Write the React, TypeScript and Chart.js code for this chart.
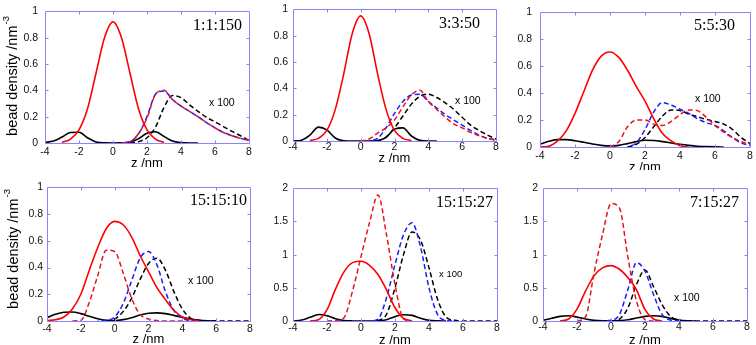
import React, { useEffect, useRef } from "react";
import { Chart, registerables } from "chart.js";

Chart.register(...registerables);

// ---------------- data ----------------
const Z = [-4, -3.5, -3, -2.5, -2, -1.5, -1, -0.5, 0, 0.5, 1, 1.5, 2, 2.5, 3, 3.5, 4, 4.5, 5, 5.5, 6, 6.5, 7, 7.5, 8];
const n = null;

const X_TICKS = [-4, -2, 0, 2, 4, 6, 8];
const Y_TICKS_A = [0, 0.2, 0.4, 0.6, 0.8, 1];
const Y_TICKS_B = [0, 0.5, 1, 1.5, 2];

const PANEL_LABELS = ["1:1:150", "3:3:50", "5:5:30", "15:15:10", "15:15:27", "7:15:27"];
const SCALE_NOTE = "x 100";
const X_TITLE = "z /nm";
const Y_TITLE = "bead density /nm";
const Y_TITLE_SUP = "-3";

// panel 1 (1:1:150)
const p1RedSolid = [n, n, 0.005, 0.03, 0.1, 0.26, 0.53, 0.8, 0.92, 0.8, 0.53, 0.26, 0.1, 0.03, 0.005, n, n, n, n, n, n, n, n, n, n];
const p1BlackSolid = [0.003, 0.015, 0.045, 0.08, 0.082, 0.04, 0.008, 0.001, 0, 0.001, 0.007, 0.032, 0.074, 0.085, 0.05, 0.015, 0.003, 0, 0, n, n, n, n, n, n];
const p1RedDash = [n, n, n, n, n, n, n, n, n, 0, 0.01, 0.07, 0.19, 0.37, 0.4, 0.33, 0.28, 0.24, 0.2, 0.155, 0.115, 0.08, 0.055, 0.035, 0.02];
const p1BlueDash = [n, n, n, n, n, n, n, n, n, 0, 0.01, 0.07, 0.2, 0.37, 0.395, 0.33, 0.28, 0.24, 0.2, 0.155, 0.115, 0.08, 0.055, 0.035, 0.02];
const p1BlackDash = [n, n, n, n, n, n, n, n, n, n, 0, 0.01, 0.04, 0.12, 0.27, 0.36, 0.345, 0.29, 0.24, 0.195, 0.16, 0.125, 0.088, 0.055, 0.02];

// panel 2 (3:3:50)
const p2RedSolid = [n, n, 0.004, 0.02, 0.08, 0.24, 0.51, 0.815, 0.95, 0.815, 0.51, 0.24, 0.08, 0.02, 0.004, n, n, n, n, n, n, n, n, n, n];
const p2BlackSolid = [0, 0.006, 0.044, 0.105, 0.084, 0.023, 0.002, 0, 0, 0, 0.003, 0.027, 0.09, 0.1, 0.038, 0.005, 0, 0, n, n, n, n, n, n, n];
const p2RedDash = [n, n, n, n, n, n, n, n, 0, 0.015, 0.06, 0.1, 0.16, 0.26, 0.35, 0.385, 0.3, 0.24, 0.18, 0.13, 0.1, 0.065, 0.04, 0.02, 0.005];
const p2BlueDash = [n, n, n, n, n, n, n, n, n, 0, 0.02, 0.1, 0.21, 0.3, 0.35, 0.355, 0.3, 0.25, 0.2, 0.16, 0.12, 0.08, 0.045, 0.02, 0.01];
const p2BlackDash = [n, n, n, n, n, n, n, n, n, n, 0, 0.03, 0.1, 0.19, 0.28, 0.34, 0.355, 0.33, 0.29, 0.24, 0.18, 0.12, 0.08, 0.045, 0.015];

// panel 3 (5:5:30)
const p3RedSolid = [0, 0.005, 0.045, 0.12, 0.25, 0.41, 0.57, 0.675, 0.705, 0.665, 0.57, 0.45, 0.34, 0.21, 0.1, 0.045, 0.01, 0, n, n, n, n, n, n, n];
const p3BlackSolid = [0.02, 0.042, 0.055, 0.055, 0.047, 0.035, 0.022, 0.012, 0.008, 0.012, 0.025, 0.04, 0.05, 0.048, 0.04, 0.03, 0.02, 0.012, 0.006, 0.003, 0.001, 0, n, n, n];
const p3RedDash = [n, n, n, n, n, n, n, n, 0, 0.04, 0.15, 0.2, 0.2, 0.17, 0.16, 0.19, 0.24, 0.275, 0.27, 0.22, 0.16, 0.11, 0.07, 0.04, 0.02];
const p3BlueDash = [n, n, n, n, n, n, n, n, n, n, 0, 0.03, 0.13, 0.26, 0.33, 0.31, 0.28, 0.25, 0.21, 0.18, 0.16, 0.12, 0.07, 0.03, 0.01];
const p3BlackDash = [n, n, n, n, n, n, n, n, n, n, 0, 0.02, 0.07, 0.15, 0.23, 0.275, 0.27, 0.245, 0.225, 0.205, 0.19, 0.17, 0.13, 0.07, 0.025];

// panel 4 (15:15:10)
const p4RedSolid = [0.003, 0.01, 0.03, 0.09, 0.2, 0.38, 0.55, 0.69, 0.745, 0.72, 0.63, 0.49, 0.37, 0.25, 0.16, 0.08, 0.03, 0.01, 0.002, n, n, n, n, n, n];
const p4BlackSolid = [0.025, 0.05, 0.065, 0.067, 0.055, 0.035, 0.017, 0.006, 0.003, 0.01, 0.025, 0.045, 0.058, 0.061, 0.055, 0.042, 0.027, 0.014, 0.005, 0.001, 0, n, n, n, n];
const p4RedDash = [n, n, n, 0, 0.005, 0.14, 0.34, 0.53, 0.52, 0.36, 0.17, 0.05, 0.015, 0.003, 0, 0, 0, n, n, n, n, n, n, n, n];
const p4BlueDash = [n, n, n, n, n, n, 0, 0.005, 0.03, 0.13, 0.3, 0.47, 0.52, 0.42, 0.22, 0.08, 0.02, 0.003, 0, n, n, n, n, n, n];
const p4BlackDash = [n, n, n, n, n, n, n, 0, 0.015, 0.07, 0.17, 0.31, 0.43, 0.47, 0.38, 0.22, 0.09, 0.02, 0.005, 0, 0, 0, 0, 0, 0];

// panel 5 (15:15:27)
const p5RedSolid = [n, n, 0, 0.02, 0.17, 0.48, 0.74, 0.88, 0.9, 0.84, 0.7, 0.47, 0.2, 0.04, 0.005, n, n, n, n, n, n, n, n, n, n];
const p5BlackSolid = [0, 0.015, 0.055, 0.098, 0.08, 0.035, 0.008, 0.001, 0, 0, 0.003, 0.02, 0.065, 0.095, 0.085, 0.04, 0.01, 0.002, 0, n, n, n, n, n, n];
const p5RedDash = [n, n, n, n, 0, 0.005, 0.05, 0.45, 0.97, 1.48, 1.9, 1.3, 0.55, 0.03, 0, n, n, n, n, n, n, n, n, n, n];
const p5BlueDash = [n, n, n, n, n, n, n, n, n, 0, 0.03, 0.35, 0.85, 1.3, 1.48, 1.12, 0.5, 0.1, 0.01, 0, n, n, n, n, n];
const p5BlackDash = [n, n, n, n, n, n, n, n, n, n, 0, 0.1, 0.5, 1.0, 1.34, 1.22, 0.8, 0.33, 0.06, 0.01, 0, 0, 0, 0, 0];

// panel 6 (7:15:27)
const p6RedSolid = [n, n, 0, 0.03, 0.18, 0.45, 0.68, 0.8, 0.835, 0.78, 0.65, 0.47, 0.17, 0.03, 0, n, n, n, n, n, n, n, n, n, n];
const p6BlackSolid = [0.01, 0.04, 0.07, 0.08, 0.06, 0.03, 0.01, 0.003, 0.002, 0.008, 0.02, 0.045, 0.07, 0.08, 0.07, 0.04, 0.015, 0.004, 0, n, n, n, n, n, n];
const p6RedDash = [n, n, n, n, 0, 0.06, 0.72, 1.3, 1.77, 1.7, 0.95, 0.3, 0.02, 0, n, n, n, n, n, n, n, n, n, n, n];
const p6BlueDash = [n, n, n, n, n, n, n, 0, 0.01, 0.1, 0.48, 0.88, 0.75, 0.4, 0.1, 0.015, 0, n, n, n, n, n, n, n, n];
const p6BlackDash = [n, n, n, n, n, n, n, n, 0, 0.03, 0.2, 0.55, 0.77, 0.52, 0.25, 0.07, 0.01, 0, 0, 0, 0, 0, 0, 0, 0];

// ---------------- styles / layout ----------------
const SANS = '"Liberation Sans", Arial, sans-serif';
const SERIF = '"Liberation Serif", "Times New Roman", serif';
const FRAME_COLOR = "#8585ff";
const TEXT_COLOR = "#111111";
const RED = "#ff0000";
const RED_DASH = "#e8141c";
const BLUE = "#1c1cff";
const BLACK = "#000000";

type Geom = {
  frame: number[]; // L, T, R, B page px
  canvas: number[]; // left, top, right, bottom page px
  xPad: number;
  yPad: number;
  label: { x: number; y: number };
  note: { x: number; y: number; size: number };
  yTitle: { x: number; y: number } | null;
  xTitleY: number;
};

const GEOMS: Geom[] = [
  { frame: [45, 6, 249, 143], canvas: [0, -2, 259, 172], xPad: 3, yPad: 7, label: { x: 242, y: 26 }, note: { x: 209, y: 103, size: 10.5 }, yTitle: { x: 13, y: 76 }, xTitleY: 163 },
  { frame: [293, 6, 496, 141], canvas: [253, -2, 506, 172], xPad: 0, yPad: 5, label: { x: 480, y: 24 }, note: { x: 455, y: 101, size: 10.5 }, yTitle: null, xTitleY: 158 },
  { frame: [540, 6, 750, 147], canvas: [500, -2, 756, 170], xPad: 3, yPad: 8, label: { x: 735, y: 26 }, note: { x: 695, y: 99, size: 10.5 }, yTitle: null, xTitleY: 167 },
  { frame: [47, 185, 250, 321], canvas: [0, 177, 260, 345], xPad: 2, yPad: 4, label: { x: 247, y: 201 }, note: { x: 188, y: 281, size: 10.5 }, yTitle: { x: 14, y: 249 }, xTitleY: 339 },
  { frame: [293, 185, 497, 321], canvas: [253, 177, 507, 345], xPad: 1, yPad: 5, label: { x: 493, y: 203 }, note: { x: 439, y: 274, size: 9.5 }, yTitle: null, xTitleY: 340 },
  { frame: [543, 185, 747, 321], canvas: [503, 177, 756, 345], xPad: 0, yPad: 5, label: { x: 739, y: 203 }, note: { x: 674, y: 298, size: 10.5 }, yTitle: null, xTitleY: 340 },
];

const PANEL_SERIES = [
  { redSolid: p1RedSolid, redDash: p1RedDash, blueDash: p1BlueDash, blackDash: p1BlackDash, blackSolid: p1BlackSolid, yMax: 1, yTicks: Y_TICKS_A },
  { redSolid: p2RedSolid, redDash: p2RedDash, blueDash: p2BlueDash, blackDash: p2BlackDash, blackSolid: p2BlackSolid, yMax: 1, yTicks: Y_TICKS_A },
  { redSolid: p3RedSolid, redDash: p3RedDash, blueDash: p3BlueDash, blackDash: p3BlackDash, blackSolid: p3BlackSolid, yMax: 1, yTicks: Y_TICKS_A },
  { redSolid: p4RedSolid, redDash: p4RedDash, blueDash: p4BlueDash, blackDash: p4BlackDash, blackSolid: p4BlackSolid, yMax: 1, yTicks: Y_TICKS_A },
  { redSolid: p5RedSolid, redDash: p5RedDash, blueDash: p5BlueDash, blackDash: p5BlackDash, blackSolid: p5BlackSolid, yMax: 2, yTicks: Y_TICKS_B },
  { redSolid: p6RedSolid, redDash: p6RedDash, blueDash: p6BlueDash, blackDash: p6BlackDash, blackSolid: p6BlackSolid, yMax: 2, yTicks: Y_TICKS_B },
];

const toPoints = (arr: (number | null)[]) => Z.map((z, i) => ({ x: z, y: arr[i] }));

const decoPlugin = {
  id: "deco",
  afterDraw(chart: any, _args: any, opts: any) {
    const g: Geom = opts.geom;
    const label: string = opts.label;
    const { ctx, chartArea: ca } = chart;
    const ox = g.canvas[0];
    const oy = g.canvas[1];
    ctx.save();
    // frame with inward ticks
    ctx.strokeStyle = FRAME_COLOR;
    ctx.lineWidth = 1;
    const l = Math.round(ca.left) + 0.5;
    const r = Math.round(ca.right) + 0.5;
    const t = Math.round(ca.top) + 0.5;
    const b = Math.round(ca.bottom) + 0.5;
    ctx.beginPath();
    ctx.rect(l, t, r - l, b - t);
    const xs = chart.scales.x;
    const ys = chart.scales.y;
    const TL = 3;
    xs.ticks.forEach((tk: any) => {
      const px = Math.round(xs.getPixelForValue(tk.value)) + 0.5;
      if (px <= l + 1 || px >= r - 1) return;
      ctx.moveTo(px, b);
      ctx.lineTo(px, b - TL);
      ctx.moveTo(px, t);
      ctx.lineTo(px, t + TL);
    });
    ys.ticks.forEach((tk: any) => {
      const py = Math.round(ys.getPixelForValue(tk.value)) + 0.5;
      if (py <= t + 1 || py >= b - 1) return;
      ctx.moveTo(l, py);
      ctx.lineTo(l + TL, py);
      ctx.moveTo(r, py);
      ctx.lineTo(r - TL, py);
    });
    ctx.stroke();

    ctx.fillStyle = "#000";
    // panel label
    ctx.font = `16px ${SERIF}`;
    ctx.textAlign = "right";
    ctx.textBaseline = "middle";
    ctx.fillText(label, g.label.x - ox, g.label.y - oy);
    // x100 note
    ctx.font = `${g.note.size}px ${SANS}`;
    ctx.textAlign = "left";
    ctx.fillText(SCALE_NOTE, g.note.x - ox, g.note.y - oy);
    // x title
    ctx.font = `13px ${SANS}`;
    ctx.textAlign = "center";
    ctx.fillText(X_TITLE, (g.frame[0] + g.frame[2]) / 2 - ox, g.xTitleY - oy);
    // y title with superscript
    if (g.yTitle) {
      ctx.translate(g.yTitle.x - ox, g.yTitle.y - oy);
      ctx.rotate(-Math.PI / 2);
      ctx.font = `14.5px ${SANS}`;
      const w = ctx.measureText(Y_TITLE).width;
      ctx.font = `9.5px ${SANS}`;
      const ws = ctx.measureText(Y_TITLE_SUP).width;
      const total = w + ws + 1;
      ctx.textAlign = "left";
      ctx.font = `14.5px ${SANS}`;
      ctx.fillText(Y_TITLE, -total / 2, 0);
      ctx.font = `9.5px ${SANS}`;
      ctx.fillText(Y_TITLE_SUP, -total / 2 + w + 1, -6.5);
    }
    ctx.restore();
  },
};

function Panel({ idx }: { idx: number }) {
  const ref = useRef<HTMLCanvasElement | null>(null);
  const g = GEOMS[idx];
  const s = PANEL_SERIES[idx];
  const w = g.canvas[2] - g.canvas[0];
  const h = g.canvas[3] - g.canvas[1];
  useEffect(() => {
    if (!ref.current) return;
    const padL = g.frame[0] - g.canvas[0];
    const padT = g.frame[1] - g.canvas[1];
    const padR = g.canvas[2] - g.frame[2];
    const padB = g.canvas[3] - g.frame[3];
    const line = (data: (number | null)[], color: string, dashed: boolean, offset = 0) => ({
      data: toPoints(data),
      borderColor: color,
      backgroundColor: color,
      borderWidth: dashed ? 1.5 : 1.6,
      borderDash: dashed ? [5, 3] : [],
      borderDashOffset: offset,
      pointRadius: 0,
      fill: false,
      cubicInterpolationMode: "monotone" as const,
      spanGaps: false,
    });
    const chart = new Chart(ref.current, {
      type: "line",
      data: {
        datasets: [
          line(s.redSolid, RED, false),
          line(s.redDash, RED_DASH, true),
          line(s.blueDash, BLUE, true, 4),
          line(s.blackDash, BLACK, true),
          line(s.blackSolid, BLACK, false),
        ],
      },
      options: {
        animation: false,
        responsive: false,
        events: [],
        layout: { padding: { top: padT, right: padR, left: 0, bottom: 0 } },
        plugins: {
          legend: { display: false },
          tooltip: { enabled: false },
          title: { display: false },
          deco: { geom: g, label: PANEL_LABELS[idx] },
        } as any,
        scales: {
          x: {
            type: "linear",
            min: -4,
            max: 8,
            afterFit: (sc: any) => {
              sc.height = padB;
            },
            afterBuildTicks: (sc: any) => {
              sc.ticks = X_TICKS.map((v) => ({ value: v }));
            },
            ticks: {
              padding: g.xPad,
              autoSkip: false,
              maxRotation: 0,
              color: TEXT_COLOR,
              font: { size: 10.5, family: SANS },
              callback: (v: any) => String(v),
            },
            grid: { display: false, drawTicks: false },
            border: { display: false },
          },
          y: {
            type: "linear",
            min: 0,
            max: s.yMax,
            afterFit: (sc: any) => {
              sc.width = padL;
            },
            afterBuildTicks: (sc: any) => {
              sc.ticks = s.yTicks.map((v) => ({ value: v }));
            },
            ticks: {
              padding: g.yPad,
              autoSkip: false,
              color: TEXT_COLOR,
              font: { size: 10.5, family: SANS },
              callback: (v: any) => String(v),
            },
            grid: { display: false, drawTicks: false },
            border: { display: false },
          },
        },
      } as any,
      plugins: [decoPlugin],
    });
    return () => chart.destroy();
  }, []);
  return (
    <canvas
      ref={ref}
      width={w}
      height={h}
      style={{ position: "absolute", left: g.canvas[0], top: g.canvas[1], width: w, height: h }}
    />
  );
}

export default function App() {
  return (
    <div style={{ position: "absolute", left: 0, top: 0, width: 756, height: 345, background: "#fff", overflow: "hidden" }}>
      {GEOMS.map((_, i) => (
        <Panel key={i} idx={i} />
      ))}
    </div>
  );
}
